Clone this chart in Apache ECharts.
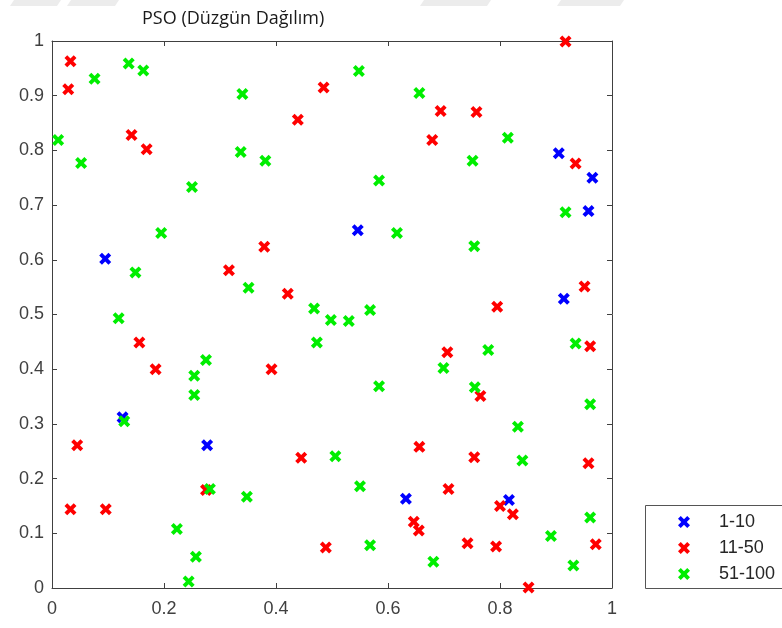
<!DOCTYPE html>
<html><head><meta charset="utf-8">
<script src="https://cdn.jsdelivr.net/npm/echarts@6/dist/echarts.min.js"></script>
<style>html,body{margin:0;padding:0;background:#fff}#c{width:782px;height:628px}</style>
</head><body><div id="c"></div>
<script>
const titleText = 'PSO (Düzgün Dağılım)';
const seriesNames = ['1-10', '11-50', '51-100'];
const xTicks = [0, 0.2, 0.4, 0.6, 0.8, 1];
const yTicks = [0, 0.1, 0.2, 0.3, 0.4, 0.5, 0.6, 0.7, 0.8, 0.9, 1];

const blueX = [0.095, 0.546, 0.905, 0.965, 0.958, 0.914, 0.126, 0.277, 0.632, 0.816];
const blueY = [0.602, 0.654, 0.795, 0.750, 0.689, 0.529, 0.312, 0.261, 0.163, 0.161];

const redX = [0.033, 0.029, 0.142, 0.169, 0.439, 0.485, 0.316, 0.379, 0.421, 0.694,
              0.758, 0.679, 0.917, 0.935, 0.951, 0.795, 0.156, 0.185, 0.045, 0.033,
              0.096, 0.275, 0.392, 0.445, 0.489, 0.961, 0.706, 0.765, 0.656, 0.754,
              0.958, 0.708, 0.800, 0.823, 0.646, 0.655, 0.971, 0.742, 0.793, 0.851];
const redY = [0.963, 0.912, 0.828, 0.802, 0.856, 0.915, 0.581, 0.624, 0.538, 0.872,
              0.870, 0.819, 0.999, 0.776, 0.551, 0.514, 0.449, 0.400, 0.261, 0.144,
              0.144, 0.179, 0.400, 0.238, 0.074, 0.442, 0.431, 0.351, 0.258, 0.239,
              0.228, 0.181, 0.150, 0.135, 0.121, 0.105, 0.080, 0.082, 0.076, 0.001];

const greenX = [0.076, 0.011, 0.052, 0.137, 0.163, 0.250, 0.195, 0.149, 0.119, 0.340,
                0.337, 0.381, 0.351, 0.468, 0.548, 0.656, 0.814, 0.751, 0.584, 0.616,
                0.754, 0.917, 0.568, 0.498, 0.530, 0.275, 0.254, 0.254, 0.129, 0.282,
                0.348, 0.223, 0.257, 0.244, 0.473, 0.506, 0.935, 0.779, 0.699, 0.584,
                0.755, 0.961, 0.832, 0.840, 0.550, 0.961, 0.891, 0.568, 0.681, 0.931];
const greenY = [0.931, 0.819, 0.777, 0.959, 0.946, 0.733, 0.649, 0.577, 0.493, 0.903,
                0.797, 0.781, 0.549, 0.511, 0.945, 0.905, 0.823, 0.781, 0.745, 0.649,
                0.625, 0.687, 0.508, 0.490, 0.488, 0.417, 0.388, 0.353, 0.305, 0.181,
                0.167, 0.108, 0.057, 0.012, 0.449, 0.241, 0.447, 0.435, 0.402, 0.369,
                0.367, 0.336, 0.295, 0.233, 0.186, 0.129, 0.095, 0.078, 0.048, 0.041];

const colors = ['#0000ff', '#ff0000', '#00ee00'];
const xMark = 'path://M0,2.3 L2.3,0 L5,2.7 L7.7,0 L10,2.3 L7.3,5 L10,7.7 L7.7,10 L5,7.3 L2.3,10 L0,7.7 L2.7,5 Z';
const zip = (a, b) => a.map((v, i) => [v, b[i]]);
const seriesData = [zip(blueX, blueY), zip(redX, redY), zip(greenX, greenY)];

const axisCol = '#404040';
const fmt = v => String(Math.round(v * 10) / 10);
const baseAxis = {
  type: 'value', min: 0, max: 1,
  axisLine: {show: true, onZero: false, lineStyle: {color: axisCol, width: 1}},
  axisTick: {show: true, inside: true, length: 5, lineStyle: {color: axisCol}},
  splitLine: {show: false}
};

// faint watermark bands at the very top of the picture
const bands = [[10, 57], [67, 115], [420, 487], [557, 620]];
const bandGraphics = bands.map(b => ({
  type: 'polygon', z: -2,
  shape: {points: [[b[0] + 4, 0], [b[1] + 4, 0], [b[1], 6], [b[0], 6]]},
  style: {fill: '#ececec'}
}));

const chart = echarts.init(document.getElementById('c'), null, {renderer: 'canvas'});
chart.setOption({
  animation: false,
  backgroundColor: '#ffffff',
  title: {text: titleText, left: 137, top: 5,
    textStyle: {fontFamily: 'Open Sans', fontSize: 18, fontWeight: 'normal', color: '#1a1a1a'}},
  grid: {left: 52, top: 41, right: 170, bottom: 40, containLabel: false},
  xAxis: [
    Object.assign({}, baseAxis, {position: 'bottom', interval: 0.2,
      axisLabel: {show: true, formatter: fmt, color: '#404040', fontFamily: 'Liberation Sans', fontSize: 18, margin: 12}}),
    Object.assign({}, baseAxis, {position: 'top', interval: 0.2, axisLabel: {show: false}})
  ],
  yAxis: [
    Object.assign({}, baseAxis, {position: 'left', interval: 0.1,
      axisLabel: {show: true, formatter: fmt, color: '#404040', fontFamily: 'Liberation Sans', fontSize: 18, margin: 8}}),
    Object.assign({}, baseAxis, {position: 'right', interval: 0.1, axisLabel: {show: false}})
  ],
  legend: {
    orient: 'vertical', left: 678, top: 513, padding: 0,
    itemWidth: 60, itemHeight: 12, itemGap: 8, symbolKeepAspect: true,
    textStyle: {fontFamily: 'Liberation Sans', fontSize: 18, color: '#262626'},
    data: seriesNames.map(n => ({name: n, icon: xMark}))
  },
  graphic: [{
    type: 'rect', left: 645, top: 505, z: -1,
    shape: {width: 150, height: 83},
    style: {fill: '#ffffff', stroke: '#555555', lineWidth: 1}
  }].concat(bandGraphics),
  series: seriesNames.map((n, i) => ({
    name: n, type: 'scatter', xAxisIndex: 0, yAxisIndex: 0,
    symbol: xMark, symbolSize: 12,
    itemStyle: {color: colors[i], opacity: 1},
    data: seriesData[i]
  }))
});
</script></body></html>
